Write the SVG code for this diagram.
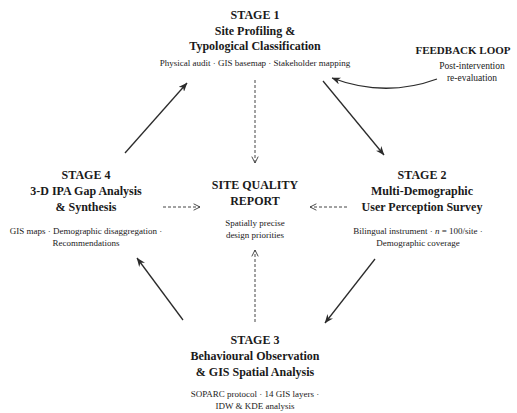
<svg xmlns="http://www.w3.org/2000/svg" width="517" height="413" viewBox="0 0 517 413">
<defs>
<style>
text{font-family:'Liberation Serif','Times New Roman',serif;fill:#1a1a1a;text-anchor:middle}
.t{font-size:12px;font-weight:bold}
.s{font-size:9px}
.fb{font-size:11px;font-weight:bold}
.fs{font-size:9.5px}
.solid{stroke:#2b2b2b;stroke-width:1.3;fill:none}
.dash{stroke:#444;stroke-width:1;fill:none;stroke-dasharray:3 2}
</style>
<marker id="ah" viewBox="0 0 10 8" markerWidth="9" markerHeight="7.5" refX="9.5" refY="4" orient="auto" markerUnits="userSpaceOnUse">
<path d="M0,0 L10,4 L0,8 L3,4 Z" fill="#2b2b2b"/>
</marker>
<marker id="oh" viewBox="0 0 10 10" markerWidth="8" markerHeight="8" refX="9" refY="5" orient="auto" markerUnits="userSpaceOnUse">
<path d="M1,1 L9,5 L1,9" fill="none" stroke="#444" stroke-width="1.2"/>
</marker>
</defs>
<rect width="517" height="413" fill="#fff"/>
<g id="connectors">
<line class="solid" x1="125" y1="153" x2="187" y2="83" marker-end="url(#ah)"/>
<line class="solid" x1="323" y1="81" x2="384" y2="155" marker-end="url(#ah)"/>
<line class="solid" x1="375" y1="259" x2="325" y2="323" marker-end="url(#ah)"/>
<line class="solid" x1="183" y1="320" x2="137" y2="258" marker-end="url(#ah)"/>
<path class="solid" d="M437,79 Q385,98 332,78" marker-end="url(#ah)"/>
<line class="dash" x1="255" y1="80" x2="255" y2="163" marker-end="url(#oh)"/>
<line class="dash" x1="163" y1="207" x2="200" y2="207" marker-end="url(#oh)"/>
<line class="dash" x1="347" y1="207" x2="310" y2="207" marker-end="url(#oh)"/>
<line class="dash" x1="255" y1="322" x2="255" y2="250" marker-end="url(#oh)"/>
</g>
<g font-family="Liberation Serif, Times New Roman, serif">
<g id="stage1">
<text class="t" x="255" y="19" font-family="Liberation Serif, serif">STAGE 1</text>
<text class="t" x="255" y="35" font-family="Liberation Serif, serif">Site Profiling &amp;</text>
<text class="t" x="255" y="50" font-family="Liberation Serif, serif">Typological Classification</text>
<text class="s" x="255" y="66" font-family="Liberation Serif, serif">Physical audit · GIS basemap · Stakeholder mapping</text>
</g>
<g id="stage2">
<text class="t" x="422" y="179" font-family="Liberation Serif, serif">STAGE 2</text>
<text class="t" x="422" y="195" font-family="Liberation Serif, serif">Multi-Demographic</text>
<text class="t" x="422" y="211" font-family="Liberation Serif, serif">User Perception Survey</text>
<text class="s" x="418" y="234" font-family="Liberation Serif, serif">Bilingual instrument · <tspan font-style="italic">n</tspan> = 100/site ·</text>
<text class="s" x="418" y="246" font-family="Liberation Serif, serif">Demographic coverage</text>
</g>
<g id="stage3">
<text class="t" x="255" y="344" font-family="Liberation Serif, serif">STAGE 3</text>
<text class="t" x="255" y="360" font-family="Liberation Serif, serif">Behavioural Observation</text>
<text class="t" x="255" y="376" font-family="Liberation Serif, serif">&amp; GIS Spatial Analysis</text>
<text class="s" x="255" y="397" font-family="Liberation Serif, serif">SOPARC protocol · 14 GIS layers ·</text>
<text class="s" x="255" y="409" font-family="Liberation Serif, serif">IDW &amp; KDE analysis</text>
</g>
<g id="stage4">
<text class="t" x="86" y="179" font-family="Liberation Serif, serif">STAGE 4</text>
<text class="t" x="86" y="195" font-family="Liberation Serif, serif">3-D IPA Gap Analysis</text>
<text class="t" x="86" y="211" font-family="Liberation Serif, serif">&amp; Synthesis</text>
<text class="s" x="86" y="234" font-family="Liberation Serif, serif">GIS maps · Demographic disaggregation ·</text>
<text class="s" x="86" y="246" font-family="Liberation Serif, serif">Recommendations</text>
</g>
<g id="report">
<text class="t" x="255" y="189" font-family="Liberation Serif, serif">SITE QUALITY</text>
<text class="t" x="255" y="205" font-family="Liberation Serif, serif">REPORT</text>
<text class="s" x="255" y="226" font-family="Liberation Serif, serif">Spatially precise</text>
<text class="s" x="255" y="238" font-family="Liberation Serif, serif">design priorities</text>
</g>
<g id="feedback">
<text class="fb" x="463" y="54" font-family="Liberation Serif, serif">FEEDBACK LOOP</text>
<text class="fs" x="472" y="69" font-family="Liberation Serif, serif">Post-intervention</text>
<text class="fs" x="472" y="81" font-family="Liberation Serif, serif">re-evaluation</text>
</g>
</g>
</svg>
